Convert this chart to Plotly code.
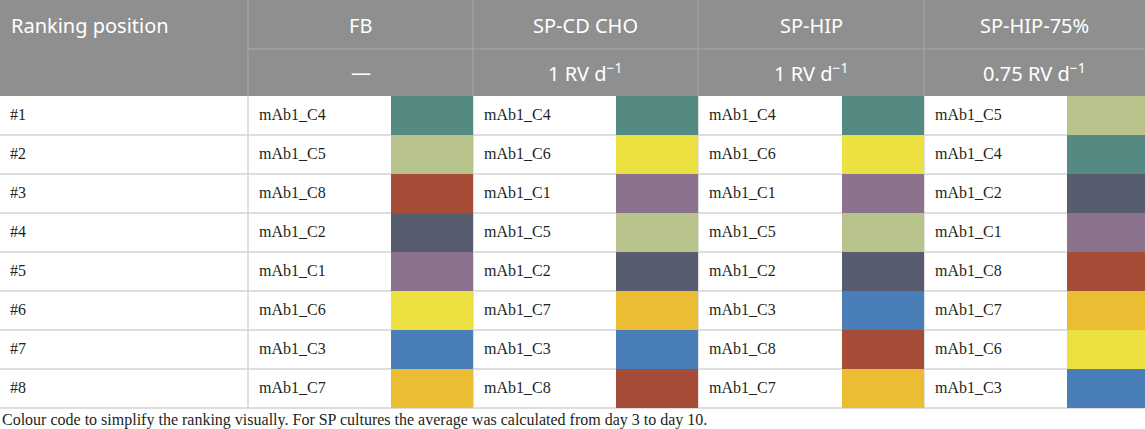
import plotly.graph_objects as go

# ranking data
ranks = ['#1', '#2', '#3', '#4', '#5', '#6', '#7', '#8']
groups = ['FB', 'SP-CD CHO', 'SP-HIP', 'SP-HIP-75%']
rates = ['\u2014', '1 RV d<sup>\u22121</sup>', '1 RV d<sup>\u22121</sup>', '0.75 RV d<sup>\u22121</sup>']
fb = ['mAb1_C4', 'mAb1_C5', 'mAb1_C8', 'mAb1_C2', 'mAb1_C1', 'mAb1_C6', 'mAb1_C3', 'mAb1_C7']
sp_cd_cho = ['mAb1_C4', 'mAb1_C6', 'mAb1_C1', 'mAb1_C5', 'mAb1_C2', 'mAb1_C7', 'mAb1_C3', 'mAb1_C8']
sp_hip = ['mAb1_C4', 'mAb1_C6', 'mAb1_C1', 'mAb1_C5', 'mAb1_C2', 'mAb1_C3', 'mAb1_C8', 'mAb1_C7']
sp_hip_75 = ['mAb1_C5', 'mAb1_C4', 'mAb1_C2', 'mAb1_C1', 'mAb1_C8', 'mAb1_C7', 'mAb1_C6', 'mAb1_C3']
clones = ['mAb1_C1', 'mAb1_C2', 'mAb1_C3', 'mAb1_C4', 'mAb1_C5', 'mAb1_C6', 'mAb1_C7', 'mAb1_C8']
clone_colors = ['#8b728d', '#575c6e', '#4a7eb8', '#548a82', '#b7c38a', '#ede041', '#ebbd33', '#a54d37']
footnote = ('Colour code to simplify the ranking visually. '
            'For SP cultures the average was calculated from day 3 to day 10.')

# layout (pixel units)
W, H = 1145, 429
col_edges = [0, 248, 473, 698, 924, 1145]
swatch_w = [82, 82, 82, 78]
head_y = [0, 49, 96]
row_h = 39
body_top = 96
body_bot = body_top + row_h * len(ranks)
HEAD_BG = '#8f8f8f'
HEAD_LINE = '#a8a8a8'
GRID = '#d3d3d3'
TXT = '#231f20'

fig = go.Figure()
shapes = []
annotations = []

# header block
shapes.append(dict(type='rect', x0=0, x1=W, y0=head_y[0], y1=head_y[2],
                   fillcolor=HEAD_BG, line_width=0, layer='below'))
shapes.append(dict(type='line', x0=col_edges[1], x1=W, y0=head_y[1], y1=head_y[1],
                   line=dict(color=HEAD_LINE, width=1), layer='below'))
for x in col_edges[1:-1]:
    shapes.append(dict(type='line', x0=x, x1=x, y0=head_y[0], y1=head_y[2],
                       line=dict(color=HEAD_LINE, width=1), layer='below'))

hfont = dict(family='Noto Sans', size=20, color='white')
annotations.append(dict(x=9, y=(head_y[0] + head_y[1]) / 2 + 1, text='Ranking position',
                        xanchor='left', yanchor='middle', showarrow=False, font=hfont))
for i, (g, r) in enumerate(zip(groups, rates)):
    xc = (col_edges[i + 1] + col_edges[i + 2]) / 2
    annotations.append(dict(x=xc, y=(head_y[0] + head_y[1]) / 2 + 1, text=g,
                            xanchor='center', yanchor='middle', showarrow=False, font=hfont))
    annotations.append(dict(x=xc, y=(head_y[1] + head_y[2]) / 2, text=r,
                            xanchor='center', yanchor='middle', showarrow=False, font=hfont))

# body grid
for k in range(1, len(ranks) + 1):
    y = body_top + k * row_h
    shapes.append(dict(type='line', x0=0, x1=W, y0=y, y1=y,
                       line=dict(color=GRID, width=1.5), layer='below'))
for x in col_edges[1:-1]:
    shapes.append(dict(type='line', x0=x, x1=x, y0=body_top, y1=body_bot,
                       line=dict(color=GRID, width=1.5), layer='below'))

row_mid = [body_top + row_h * (k + 0.5) for k in range(len(ranks))]
row_edges = [body_top + row_h * k for k in range(len(ranks) + 1)]
bfont = dict(family='Liberation Serif', size=16, color=TXT)

fig.add_trace(go.Scatter(x=[10] * len(ranks), y=row_mid, text=ranks, mode='text',
                         textposition='middle right', textfont=bfont,
                         hoverinfo='skip', showlegend=False))

# discrete colour scale for the swatches
n = len(clones)
cscale = []
for i, c in enumerate(clone_colors):
    cscale.append([i / n, c])
    cscale.append([(i + 1) / n, c])

for i, col in enumerate([fb, sp_cd_cho, sp_hip, sp_hip_75]):
    x0 = col_edges[i + 1]
    x1 = col_edges[i + 2]
    fig.add_trace(go.Scatter(x=[x0 + 11] * len(col), y=row_mid, text=col, mode='text',
                             textposition='middle right', textfont=bfont,
                             hoverinfo='skip', showlegend=False))
    z = [[clones.index(c) + 1] for c in col]
    fig.add_trace(go.Heatmap(x=[x1 - swatch_w[i], x1], y=row_edges, z=z,
                             colorscale=cscale, zmin=0.5, zmax=n + 0.5,
                             showscale=False, hoverinfo='skip', xgap=0, ygap=0))

annotations.append(dict(x=0, y=420, text=footnote, xanchor='left', yanchor='middle',
                        showarrow=False,
                        font=dict(family='Liberation Serif', size=16, color=TXT)))

fig.update_layout(
    width=W, height=H,
    margin=dict(l=0, r=0, t=0, b=0),
    paper_bgcolor='white', plot_bgcolor='white',
    xaxis=dict(range=[0, W], visible=False, fixedrange=True),
    yaxis=dict(range=[H, 0], visible=False, fixedrange=True),
    shapes=shapes, annotations=annotations,
)

fig.write_html("out.html", config={'displayModeBar': False},
               post_script="document.body.style.margin='0';document.body.style.overflow='hidden';")
